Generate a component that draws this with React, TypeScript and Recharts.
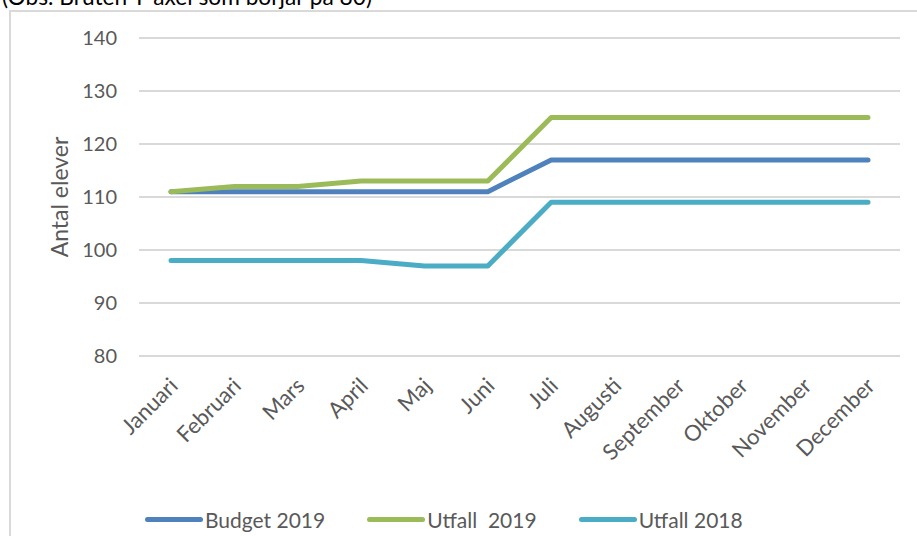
import React from 'react';
import { LineChart, Line, XAxis, YAxis, CartesianGrid, Legend } from 'recharts';

const months = ['Januari', 'Februari', 'Mars', 'April', 'Maj', 'Juni', 'Juli', 'Augusti', 'September', 'Oktober', 'November', 'December'];
const budget2019 = [111, 111, 111, 111, 111, 111, 117, 117, 117, 117, 117, 117];
const utfall2019 = [111, 112, 112, 113, 113, 113, 125, 125, 125, 125, 125, 125];
const utfall2018 = [98, 98, 98, 98, 97, 97, 109, 109, 109, 109, 109, 109];
const yTicks = [80, 90, 100, 110, 120, 130, 140];

const series = [
  { key: 'budget2019', name: 'Budget 2019', color: '#4F81BD' },
  { key: 'utfall2019', name: 'Utfall  2019', color: '#9BBB59' },
  { key: 'utfall2018', name: 'Utfall 2018', color: '#4BACC6' },
];

const data = months.map((m, i) => ({
  month: m,
  budget2019: budget2019[i],
  utfall2019: utfall2019[i],
  utfall2018: utfall2018[i],
}));

const FONT = 'Lato, "Open Sans", sans-serif';
const TXT = '#595959';

const XTick = (props: any) => {
  const { x, y, payload } = props;
  return (
    <g transform={`translate(${x + 4},${y + 19})`}>
      <text x={0} y={0} dy={6} textAnchor="end" fill={TXT} fontFamily={FONT} fontSize={22} transform="rotate(-45)">
        {payload.value}
      </text>
    </g>
  );
};

const YLabel = (props: any) => {
  const vb = props.viewBox || {};
  const cx = vb.x + 59;
  const cy = vb.y + vb.height / 2;
  return (
    <text x={cx} y={cy} textAnchor="middle" dominantBaseline="central" fill={TXT} fontFamily={FONT} fontSize={23} transform={`rotate(-90, ${cx}, ${cy})`}>
      Antal elever
    </text>
  );
};

const LegendContent = () => (
  <div style={{ display: 'flex', justifyContent: 'flex-start', paddingLeft: 145, fontFamily: FONT, fontSize: 21, color: TXT }}>
    {series.map((s) => (
      <div key={s.key} style={{ display: 'flex', alignItems: 'center', marginRight: 42 }}>
        <span style={{ display: 'inline-block', width: 58, height: 5, borderRadius: 3, background: s.color, marginRight: 2 }} />
        <span style={{ whiteSpace: 'pre' }}>{s.name}</span>
      </div>
    ))}
  </div>
);

export default function App() {
  return (
    <div style={{ position: 'fixed', left: 0, top: 0, width: 917, height: 536, overflow: 'hidden', background: '#fff' }}>
      <div style={{ position: 'absolute', left: 2, top: -17, fontFamily: FONT, fontSize: 22.7, lineHeight: 1.2, color: '#000', whiteSpace: 'nowrap' }}>
        (Obs. Bruten Y-axel som börjar på 80)
      </div>
      <div style={{ position: 'absolute', left: 9, top: 10, width: 960, height: 600, border: '2px solid #D9D9D9', boxSizing: 'border-box' }} />
      <div style={{ position: 'absolute', left: 0, top: 0 }}>
        <LineChart width={917} height={536} data={data} margin={{ top: 38, right: 17, bottom: 4, left: 0 }}>
          <CartesianGrid vertical={false} stroke="#D9D9D9" strokeWidth={2} />
          <XAxis dataKey="month" axisLine={false} tickLine={false} interval={0} padding={{ left: 32, right: 32 }} height={151} tick={<XTick />} />
          <YAxis width={139} domain={[80, 140]} ticks={yTicks} axisLine={false} tickLine={false} tickMargin={16} tick={{ fill: TXT, fontFamily: FONT, fontSize: 20 }} label={<YLabel />} />
          {series.map((s) => (
            <Line key={s.key} type="linear" dataKey={s.key} name={s.name} stroke={s.color} strokeWidth={5} dot={false} isAnimationActive={false} strokeLinejoin="round" strokeLinecap="round" />
          ))}
          <Legend verticalAlign="bottom" content={<LegendContent />} />
        </LineChart>
      </div>
    </div>
  );
}
